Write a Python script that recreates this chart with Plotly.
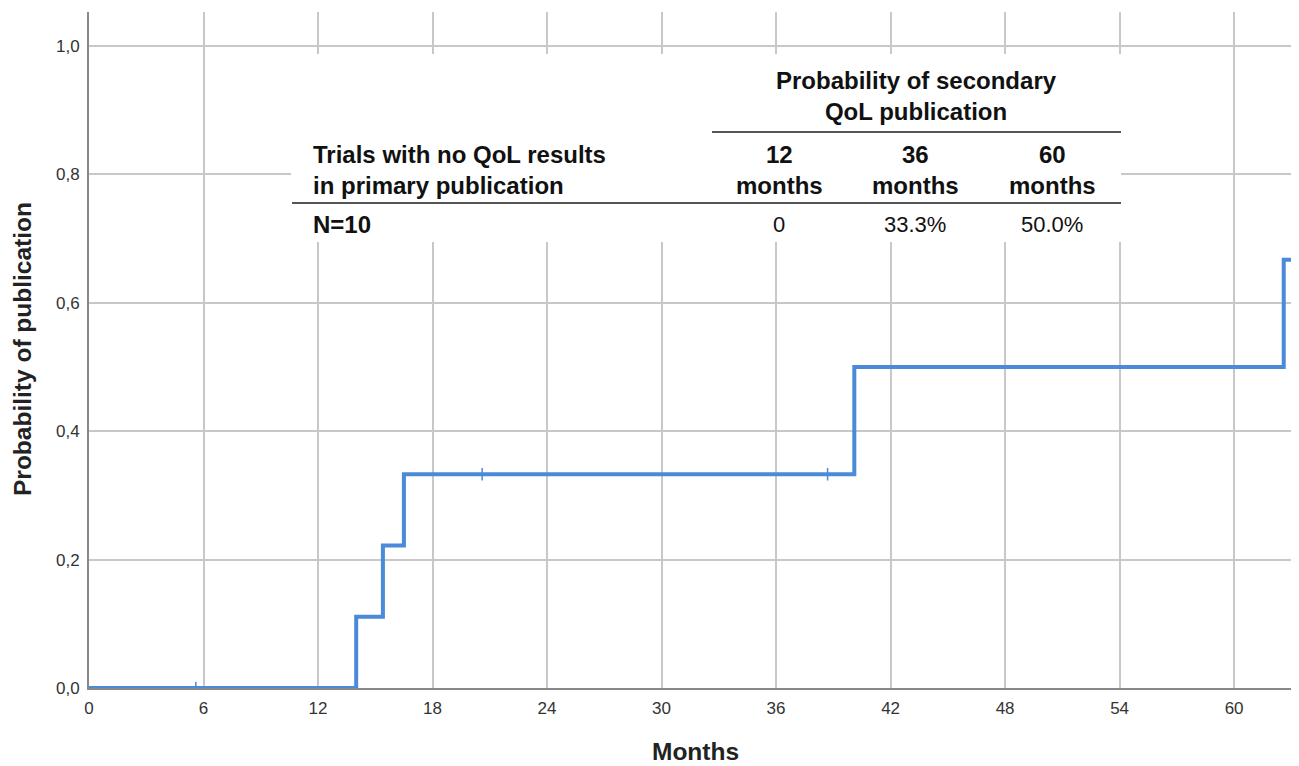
import plotly.graph_objects as go

# Kaplan-Meier (cumulative incidence) step data
step_months = [0, 14.0, 15.4, 16.5, 40.1, 62.6, 63.4]
step_prob = [0, 0.111, 0.222, 0.333, 0.5, 0.667, 0.667]
censor_months = [5.6, 20.6, 38.7]
censor_prob = [0, 0.333, 0.333]

x_ticks = [0, 6, 12, 18, 24, 30, 36, 42, 48, 54, 60]
y_ticks = [0, 0.2, 0.4, 0.6, 0.8, 1.0]
y_tick_labels = ["0,0", "0,2", "0,4", "0,6", "0,8", "1,0"]

table_header = "Probability of secondary<br>QoL publication"
row_label = "Trials with no QoL results<br>in primary publication"
col_labels = ["12<br>months", "36<br>months", "60<br>months"]
row_name = "N=10"
row_values = ["0", "33.3%", "50.0%"]

# page body has an 8px margin; figure coordinates are offset by it
OFF = 8
W, H = 1291, 758
L, R, T, B = 81, 0, 4, 78
pw, ph = W - L - R, H - T - B


def px(x):  # screen pixel -> paper
    return (x - OFF - L) / pw


def py(y):
    return (H - B - (y - OFF)) / ph


BLUE = "#4A8AD8"
FONT = "Liberation Sans, Arial, sans-serif"
TICKFONT = dict(family="Liberation Sans Narrow, Liberation Sans, Arial", size=17,
                color="#333333")

fig = go.Figure()
fig.add_trace(go.Scatter(x=step_months, y=step_prob, mode="lines",
                         line=dict(color=BLUE, width=4, shape="hv"),
                         showlegend=False, hoverinfo="skip", cliponaxis=False))
fig.add_trace(go.Scatter(x=censor_months, y=censor_prob, mode="markers",
                         marker=dict(symbol="line-ns", size=9,
                                     line=dict(color=BLUE, width=1.5)),
                         showlegend=False, hoverinfo="skip"))

shapes = [
    dict(type="rect", xref="paper", yref="paper", x0=px(291), x1=px(1121),
         y0=py(242), y1=py(54), fillcolor="white", line=dict(width=0),
         layer="above"),
    dict(type="line", xref="paper", yref="paper", x0=px(712), x1=px(1121),
         y0=py(132), y1=py(132), line=dict(color="#555555", width=2),
         layer="above"),
    dict(type="line", xref="paper", yref="paper", x0=px(292), x1=px(1121),
         y0=py(203), y1=py(203), line=dict(color="#555555", width=2),
         layer="above"),
]

tfont_b = dict(family=FONT, size=24, color="#111111")
annotations = [
    dict(text="<b>" + table_header + "</b>", x=px(916), y=py(96), xref="paper",
         yref="paper", showarrow=False, font=tfont_b, align="center",
         xanchor="center", yanchor="middle"),
    dict(text="<b>" + row_label + "</b>", x=px(311), y=py(170), xref="paper",
         yref="paper", showarrow=False, font=tfont_b, align="left",
         xanchor="left", yanchor="middle"),
    dict(text="<b>" + row_name + "</b>", x=px(311), y=py(224), xref="paper",
         yref="paper", showarrow=False, font=tfont_b, align="left",
         xanchor="left", yanchor="middle"),
    dict(text="<b>Probability of publication</b>", x=px(22), y=py(349),
         xref="paper", yref="paper", showarrow=False, textangle=-90,
         font=dict(family=FONT, size=24.5, color="#222222"),
         xanchor="center", yanchor="middle"),
    dict(text="<b>Months</b>", x=px(696), y=py(751), xref="paper",
         yref="paper", showarrow=False,
         font=dict(family=FONT, size=24.5, color="#222222"),
         xanchor="center", yanchor="middle"),
]
col_x = [779, 915, 1052]
for cx, cl, rv in zip(col_x, col_labels, row_values):
    annotations.append(dict(text="<b>" + cl + "</b>", x=px(cx), y=py(170),
                            xref="paper", yref="paper", showarrow=False,
                            font=tfont_b, align="center", xanchor="center",
                            yanchor="middle"))
    annotations.append(dict(text=rv, x=px(cx), y=py(224), xref="paper",
                            yref="paper", showarrow=False,
                            font=dict(family=FONT, size=22, color="#111111"),
                            xanchor="center", yanchor="middle"))

fig.update_layout(
    width=W, height=H,
    margin=dict(l=L, r=R, t=T, b=B, autoexpand=False),
    paper_bgcolor="white", plot_bgcolor="white",
    font=dict(family=FONT, color="#333333"),
    shapes=shapes, annotations=annotations,
    xaxis=dict(range=[0, 63.4], tickvals=x_ticks, showgrid=True,
               gridcolor="#c8c8c8", gridwidth=1.5, zeroline=False,
               showline=True, linecolor="#888888", linewidth=2,
               ticks="", tickfont=TICKFONT, ticklabelstandoff=4,
               automargin=False),
    yaxis=dict(range=[0, 1.053], tickvals=y_ticks, ticktext=y_tick_labels,
               showgrid=True, gridcolor="#c8c8c8", gridwidth=1.5,
               zeroline=False, showline=True, linecolor="#888888",
               linewidth=2, ticks="", tickfont=TICKFONT,
               ticklabelstandoff=4, automargin=False),
)

fig.write_html("out.html")
